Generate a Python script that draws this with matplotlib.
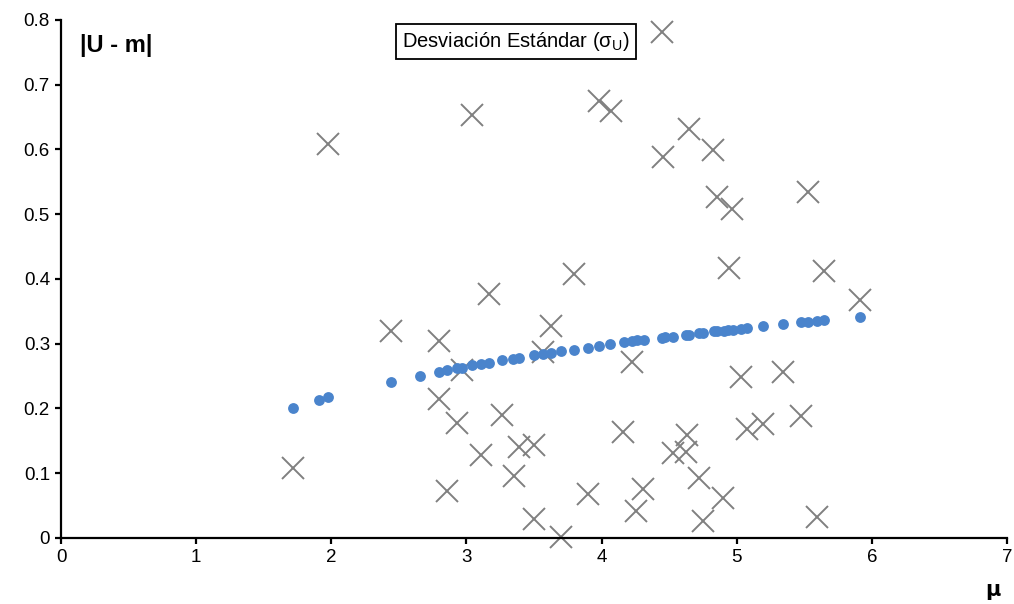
import matplotlib
matplotlib.use("Agg")
import matplotlib.pyplot as plt

plt.rcParams['font.family'] = ['Liberation Sans', 'DejaVu Sans']

# |U - m| points (gray crosses)
mu_x = [1.714, 1.978, 2.444, 2.80, 2.795, 2.854, 2.928, 2.97, 3.041, 3.106,
        3.165, 3.263, 3.352, 3.391, 3.502, 3.498, 3.569, 3.624, 3.700, 3.796,
        3.897, 3.983, 4.067, 4.161, 4.228, 4.255, 4.309, 4.445, 4.457, 4.526,
        4.622, 4.634, 4.650, 4.718, 4.753, 4.828, 4.852, 4.901, 4.940, 4.968,
        5.029, 5.074, 5.197, 5.345, 5.476, 5.528, 5.592, 5.644, 5.915]
dev_y = [0.108, 0.609, 0.319, 0.304, 0.214, 0.073, 0.178, 0.259, 0.654, 0.128,
         0.377, 0.190, 0.095, 0.141, 0.144, 0.029, 0.288, 0.327, 0.001, 0.408,
         0.068, 0.675, 0.659, 0.163, 0.272, 0.042, 0.075, 0.781, 0.589, 0.132,
         0.133, 0.159, 0.632, 0.092, 0.027, 0.599, 0.526, 0.061, 0.417, 0.508,
         0.249, 0.168, 0.176, 0.256, 0.188, 0.534, 0.033, 0.412, 0.368]

# standard deviation sigma_U (blue dots)
sig_x = [1.714, 1.907, 1.978, 2.444, 2.654, 2.795, 2.856, 2.928, 2.97, 3.041,
         3.106, 3.167, 3.266, 3.347, 3.391, 3.498, 3.569, 3.626, 3.700, 3.796,
         3.897, 3.983, 4.065, 4.166, 4.228, 4.26, 4.312, 4.448, 4.47, 4.526,
         4.625, 4.650, 4.721, 4.753, 4.834, 4.857, 4.903, 4.938, 4.970, 5.034,
         5.074, 5.197, 5.343, 5.473, 5.528, 5.592, 5.646, 5.915]
sig_y = [0.201, 0.213, 0.217, 0.241, 0.250, 0.256, 0.259, 0.262, 0.263, 0.267,
         0.269, 0.271, 0.275, 0.277, 0.278, 0.282, 0.284, 0.286, 0.289, 0.291,
         0.294, 0.297, 0.299, 0.302, 0.304, 0.305, 0.306, 0.309, 0.310, 0.311,
         0.314, 0.314, 0.316, 0.317, 0.319, 0.319, 0.320, 0.321, 0.321, 0.323,
         0.324, 0.327, 0.330, 0.333, 0.333, 0.335, 0.336, 0.342]

fig = plt.figure(figsize=(10.14, 6.04), dpi=100)
ax = fig.add_axes([0.0602, 0.1093, 0.9329, 0.8576])

ax.plot(mu_x, dev_y, linestyle='none', marker='x', ms=16, mew=1.4,
        color='#808080', clip_on=False, zorder=2)
ax.plot(sig_x, sig_y, linestyle='none', marker='o', ms=7.8, mec='none',
        color='#4a84cc', clip_on=False, zorder=3)

ax.set_xlim(0, 7)
ax.set_ylim(0, 0.8)
ax.set_xticks(range(8))
ax.set_yticks([0, 0.1, 0.2, 0.3, 0.4, 0.5, 0.6, 0.7, 0.8])
ax.set_yticklabels(['0', '0.1', '0.2', '0.3', '0.4', '0.5', '0.6', '0.7', '0.8'])

for s in ['top', 'right']:
    ax.spines[s].set_visible(False)
for s in ['left', 'bottom']:
    ax.spines[s].set_linewidth(1.6)
ax.tick_params(direction='out', length=4, width=1.6, labelsize=13.5, pad=4)

fig.text(0.079, 0.925, '|U - m|', fontsize=17, fontweight='bold',
         ha='left', va='center')
fig.text(0.979, 0.023, 'μ', fontsize=15, fontweight='bold',
         ha='center', va='center', family='DejaVu Sans')

fig.text(0.509, 0.932, 'Desviación Estándar (σ$_\\mathregular{U}$)', fontsize=14.5,
         ha='center', va='center',
         bbox=dict(boxstyle='square,pad=0.3', fc='white', ec='black', lw=1.3))

fig.savefig('out.png', dpi=100)
